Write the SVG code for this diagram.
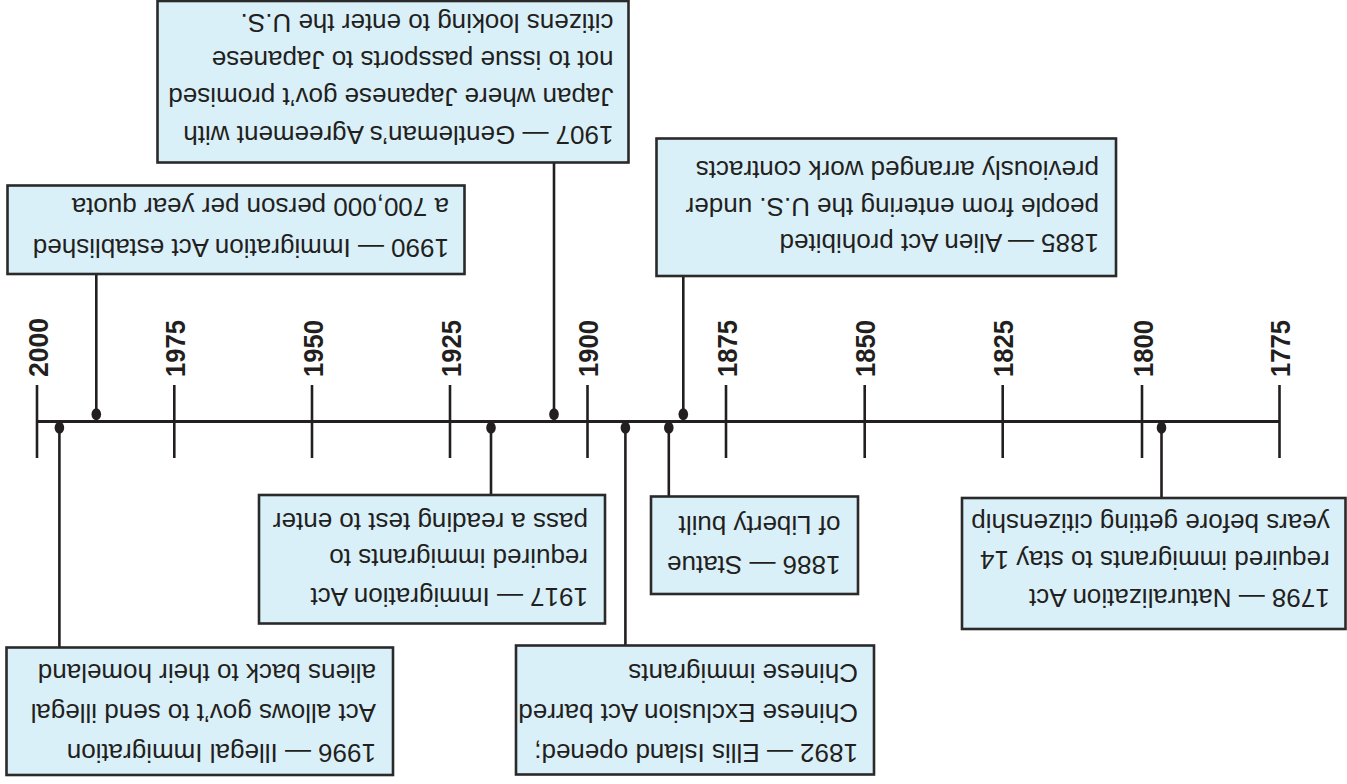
<svg xmlns="http://www.w3.org/2000/svg" width="1347" height="784" viewBox="0 0 1347 784">
<style>
.box{fill:#daf0f9;stroke:#2a2a2a;stroke-width:2.6}
.t{font-family:"Liberation Sans",Arial,sans-serif;font-size:26px;fill:#231f20}
.yr{font-family:"Liberation Sans",Arial,sans-serif;font-size:28px;font-weight:bold;fill:#231f20}
.ln{stroke:#231f20;stroke-width:2.6;fill:none}
.ax{stroke:#231f20;stroke-width:3;fill:none}
.dot{fill:#231f20}
</style>
<rect width="1347" height="784" fill="#ffffff"/>
<g transform="rotate(180 673.5 392)">
<g id="axis">
<line class="ax" x1="67.5" y1="362.5" x2="1310" y2="362.5"/>
<g class="ln">
<line x1="67.5" y1="326" x2="67.5" y2="399"/>
<line x1="205" y1="326" x2="205" y2="399"/>
<line x1="344.3" y1="326" x2="344.3" y2="399"/>
<line x1="482.3" y1="326" x2="482.3" y2="399"/>
<line x1="621" y1="326" x2="621" y2="399"/>
<line x1="759.5" y1="326" x2="759.5" y2="399"/>
<line x1="897" y1="326" x2="897" y2="399"/>
<line x1="1035" y1="326" x2="1035" y2="399"/>
<line x1="1172.7" y1="326" x2="1172.7" y2="399"/>
<line x1="1310" y1="326" x2="1310" y2="399"/>
</g>
<text class="yr" transform="translate(57,407) rotate(90)" textLength="57" lengthAdjust="spacingAndGlyphs">1775</text>
<text class="yr" transform="translate(194.5,407) rotate(90)" textLength="57" lengthAdjust="spacingAndGlyphs">1800</text>
<text class="yr" transform="translate(333.8,407) rotate(90)" textLength="57" lengthAdjust="spacingAndGlyphs">1825</text>
<text class="yr" transform="translate(471.8,407) rotate(90)" textLength="57" lengthAdjust="spacingAndGlyphs">1850</text>
<text class="yr" transform="translate(610.5,407) rotate(90)" textLength="57" lengthAdjust="spacingAndGlyphs">1875</text>
<text class="yr" transform="translate(749,407) rotate(90)" textLength="57" lengthAdjust="spacingAndGlyphs">1900</text>
<text class="yr" transform="translate(886.5,407) rotate(90)" textLength="57" lengthAdjust="spacingAndGlyphs">1925</text>
<text class="yr" transform="translate(1024.5,407) rotate(90)" textLength="57" lengthAdjust="spacingAndGlyphs">1950</text>
<text class="yr" transform="translate(1162.2,407) rotate(90)" textLength="57" lengthAdjust="spacingAndGlyphs">1975</text>
<text class="yr" transform="translate(1299.5,407) rotate(90)" textLength="59" lengthAdjust="spacingAndGlyphs">2000</text>
</g>
<g id="connectors">
<line class="ln" x1="793" y1="369.7" x2="793" y2="621.5"/>
<line class="ln" x1="1250.7" y1="369.7" x2="1250.7" y2="510"/>
<line class="ln" x1="663.7" y1="369.7" x2="663.7" y2="508"/>
<line class="ln" x1="856" y1="289" x2="856" y2="356.3"/>
<line class="ln" x1="1287.6" y1="136.5" x2="1287.6" y2="356.3"/>
<line class="ln" x1="678.2" y1="287.5" x2="678.2" y2="356.3"/>
<line class="ln" x1="721.6" y1="138.5" x2="721.6" y2="356.3"/>
<line class="ln" x1="185.5" y1="286" x2="185.5" y2="356.3"/>
<ellipse class="dot" cx="793" cy="369.7" rx="4.8" ry="6"/>
<ellipse class="dot" cx="1250.7" cy="369.7" rx="4.8" ry="6"/>
<ellipse class="dot" cx="663.7" cy="369.7" rx="4.8" ry="6"/>
<ellipse class="dot" cx="856" cy="356.3" rx="4.8" ry="6"/>
<ellipse class="dot" cx="1287.6" cy="356.3" rx="4.8" ry="6"/>
<ellipse class="dot" cx="678.2" cy="356.3" rx="4.8" ry="6"/>
<ellipse class="dot" cx="721.6" cy="356.3" rx="4.8" ry="6"/>
<ellipse class="dot" cx="185.5" cy="356.3" rx="4.8" ry="6"/>
</g>
<g id="e1798">
<rect class="box" x="1.5" y="155" width="383.5" height="131"/>
<text class="t" x="17.3" y="195">1798 — Naturalization Act</text>
<text class="t" x="17.3" y="233">required immigrants to stay 14</text>
<text class="t" x="17.3" y="270">years before getting citizenship</text>
</g>
<g id="e1885">
<rect class="box" x="231" y="508" width="459.5" height="137.5"/>
<text class="t" x="248" y="550">1885 — Alien Act prohibited</text>
<text class="t" x="248" y="586">people from entering the U.S. under</text>
<text class="t" x="248" y="623">previously arranged work contracts</text>
</g>
<g id="e1886">
<rect class="box" x="489" y="190" width="207" height="97.5"/>
<text class="t" x="506.5" y="228">1886 — Statue</text>
<text class="t" x="506.5" y="268">of Liberty built</text>
</g>
<g id="e1892">
<rect class="box" x="473" y="9.5" width="358" height="129"/>
<text class="t" x="489" y="40">1892 — Ellis Island opened;</text>
<text class="t" x="489" y="80">Chinese Exclusion Act barred</text>
<text class="t" x="489" y="120">Chinese immigrants</text>
</g>
<g id="e1907">
<rect class="box" x="718.5" y="621.5" width="471" height="161.5"/>
<text class="t" x="733.5" y="658">1907 — Gentleman’s Agreement with</text>
<text class="t" x="733.5" y="696">Japan where Japanese gov’t promised</text>
<text class="t" x="733.5" y="733">not to issue passports to Japanese</text>
<text class="t" x="733.5" y="770">citizens looking to enter the U.S.</text>
</g>
<g id="e1917">
<rect class="box" x="742" y="160.5" width="346" height="128.5"/>
<text class="t" x="759" y="196">1917 — Immigration Act</text>
<text class="t" x="759" y="235">required immigrants to</text>
<text class="t" x="759" y="271">pass a reading test to enter</text>
</g>
<g id="e1990">
<rect class="box" x="882.5" y="510" width="457" height="88.5"/>
<text class="t" x="898" y="545">1990 — Immigration Act established</text>
<text class="t" x="898" y="586">a 700,000 person per year quota</text>
</g>
<g id="e1996">
<rect class="box" x="954" y="9" width="386.5" height="127.5"/>
<text class="t" x="971" y="40">1996 — Illegal Immigration</text>
<text class="t" x="971" y="80">Act allows gov’t to send illegal</text>
<text class="t" x="971" y="120">aliens back to their homeland</text>
</g>
</g>
</svg>
